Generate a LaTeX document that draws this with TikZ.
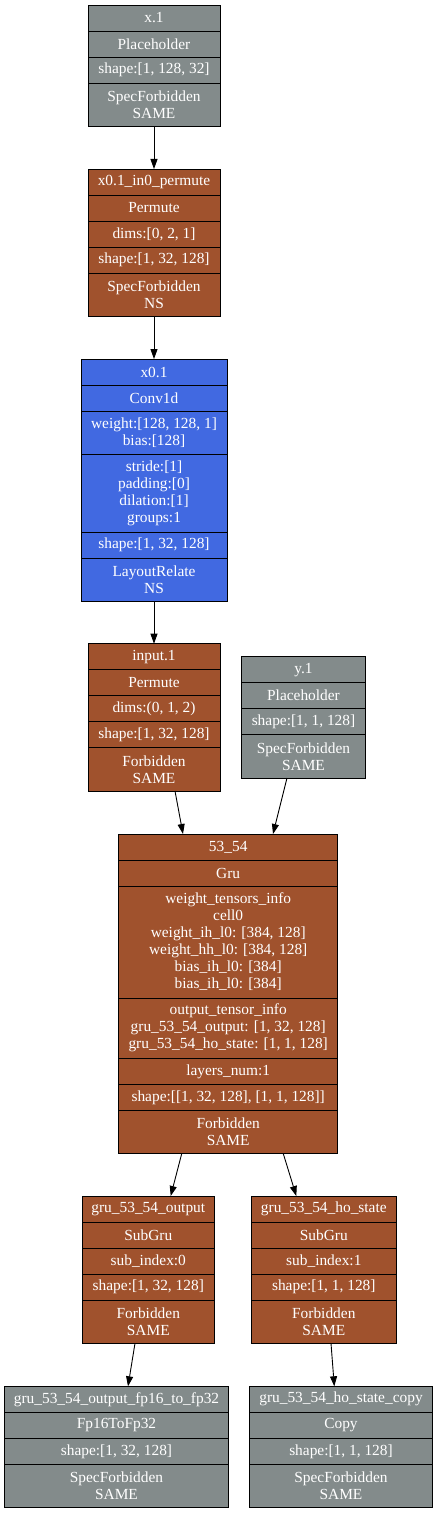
\documentclass[tikz,border=0pt]{standalone}
\usepackage{fontspec}
\setmainfont{Liberation Serif}
\usetikzlibrary{positioning}
\usetikzlibrary{arrows.meta}

\definecolor{placegray}{HTML}{838B8B}
\definecolor{opbrown}{HTML}{A0522D}
\definecolor{convblue}{HTML}{4169E1}

\tikzset{
    rec/.style={draw=black, line width=0.8pt, text=white, align=center, inner sep=0pt, outer sep=0pt,
        minimum height=26pt, font=\fontsize{15.4}{17}\selectfont},
    placebox/.style={rec, fill=placegray},
    opbox/.style={rec, fill=opbrown},
    convbox/.style={rec, fill=convblue},
    twoline/.style={minimum height=43.3pt},
    flow/.style={-{Triangle[length=10pt,width=7pt]}, line width=0.9pt}
}

\begin{document}
\begin{tikzpicture}[x=1pt,y=-1pt]
    \useasboundingbox (0,0) rectangle (437,1514);

    % x.1
    \begin{scope}[every node/.append style={placebox, minimum width=132pt}]
        \node[anchor=north] (x1-a) at (154,5) {x.1};
        \node[below=0pt of x1-a] (x1-b) {Placeholder};
        \node[below=0pt of x1-b] (x1-c) {shape:[1, 128, 32]};
        \node[below=0pt of x1-c, twoline] (x1-d) {SpecForbidden\\SAME};
    \end{scope}

    % x0.1_in0_permute
    \begin{scope}[every node/.append style={opbox, minimum width=132pt}]
        \node[anchor=north] (pm-a) at (154,169) {x0.1\_in0\_permute};
        \node[below=0pt of pm-a] (pm-b) {Permute};
        \node[below=0pt of pm-b] (pm-c) {dims:[0, 2, 1]};
        \node[below=0pt of pm-c] (pm-d) {shape:[1, 32, 128]};
        \node[below=0pt of pm-d, twoline] (pm-e) {SpecForbidden\\NS};
    \end{scope}

    % x0.1
    \begin{scope}[every node/.append style={convbox, minimum width=146pt}]
        \node[anchor=north] (cv-a) at (154,359) {x0.1};
        \node[below=0pt of cv-a] (cv-b) {Conv1d};
        \node[below=0pt of cv-b, twoline] (cv-c) {weight:[128, 128, 1]\\bias:[128]};
        \node[below=0pt of cv-c, minimum height=77.6pt] (cv-d) {stride:[1]\\padding:[0]\\dilation:[1]\\groups:1};
        \node[below=0pt of cv-d] (cv-e) {shape:[1, 32, 128]};
        \node[below=0pt of cv-e, twoline] (cv-f) {LayoutRelate\\NS};
    \end{scope}

    % input.1
    \begin{scope}[every node/.append style={opbox, minimum width=132pt}]
        \node[anchor=north] (in-a) at (154,643.7) {input.1};
        \node[below=0pt of in-a] (in-b) {Permute};
        \node[below=0pt of in-b] (in-c) {dims:(0, 1, 2)};
        \node[below=0pt of in-c] (in-d) {shape:[1, 32, 128]};
        \node[below=0pt of in-d, twoline] (in-e) {Forbidden\\SAME};
    \end{scope}

    % y.1
    \begin{scope}[every node/.append style={placebox, minimum width=124.4pt}]
        \node[anchor=north] (y1-a) at (303.5,656.7) {y.1};
        \node[below=0pt of y1-a] (y1-b) {Placeholder};
        \node[below=0pt of y1-b] (y1-c) {shape:[1, 1, 128]};
        \node[below=0pt of y1-c, twoline] (y1-d) {SpecForbidden\\SAME};
    \end{scope}

    % 53_54
    \begin{scope}[every node/.append style={opbox, minimum width=219pt}]
        \node[anchor=north] (gru-a) at (228.2,834) {53\_54};
        \node[below=0pt of gru-a] (gru-b) {Gru};
        \node[below=0pt of gru-b, minimum height=112pt] (gru-c) {weight\_tensors\_info\\cell0\\weight\_ih\_l0: [384, 128]\\weight\_hh\_l0: [384, 128]\\bias\_ih\_l0: [384]\\bias\_ih\_l0: [384]};
        \node[below=0pt of gru-c, minimum height=60.4pt] (gru-d) {output\_tensor\_info\\gru\_53\_54\_output: [1, 32, 128]\\gru\_53\_54\_ho\_state: [1, 1, 128]};
        \node[below=0pt of gru-d] (gru-e) {layers\_num:1};
        \node[below=0pt of gru-e] (gru-f) {shape:[[1, 32, 128], [1, 1, 128]]};
        \node[below=0pt of gru-f, twoline] (gru-g) {Forbidden\\SAME};
    \end{scope}

    % gru_53_54_output
    \begin{scope}[every node/.append style={opbox, minimum width=132pt}]
        \node[anchor=north] (out-a) at (148.3,1196) {gru\_53\_54\_output};
        \node[below=0pt of out-a] (out-b) {SubGru};
        \node[below=0pt of out-b] (out-c) {sub\_index:0};
        \node[below=0pt of out-c] (out-d) {shape:[1, 32, 128]};
        \node[below=0pt of out-d, twoline] (out-e) {Forbidden\\SAME};
    \end{scope}

    % gru_53_54_ho_state
    \begin{scope}[every node/.append style={opbox, minimum width=145pt}]
        \node[anchor=north] (ho-a) at (323.8,1196) {gru\_53\_54\_ho\_state};
        \node[below=0pt of ho-a] (ho-b) {SubGru};
        \node[below=0pt of ho-b] (ho-c) {sub\_index:1};
        \node[below=0pt of ho-c] (ho-d) {shape:[1, 1, 128]};
        \node[below=0pt of ho-d, twoline] (ho-e) {Forbidden\\SAME};
    \end{scope}

    % gru_53_54_output_fp16_to_fp32
    \begin{scope}[every node/.append style={placebox, minimum width=224.4pt}]
        \node[anchor=north] (fp-a) at (116.5,1386.3) {gru\_53\_54\_output\_fp16\_to\_fp32};
        \node[below=0pt of fp-a] (fp-b) {Fp16ToFp32};
        \node[below=0pt of fp-b] (fp-c) {shape:[1, 32, 128]};
        \node[below=0pt of fp-c, twoline] (fp-d) {SpecForbidden\\SAME};
    \end{scope}

    % gru_53_54_ho_state_copy
    \begin{scope}[every node/.append style={placebox, minimum width=182.6pt}]
        \node[anchor=north] (cp-a) at (341,1386.3) {gru\_53\_54\_ho\_state\_copy};
        \node[below=0pt of cp-a] (cp-b) {Copy};
        \node[below=0pt of cp-b] (cp-c) {shape:[1, 1, 128]};
        \node[below=0pt of cp-c, twoline] (cp-d) {SpecForbidden\\SAME};
    \end{scope}

    % edges
    \draw[flow] (x1-d.south) -- (pm-a.north);
    \draw[flow] (pm-e.south) -- (cv-a.north);
    \draw[flow] (cv-f.south) -- (in-a.north);
    \draw[flow] ([xshift=21pt]in-e.south) -- ([xshift=-45.2pt]gru-a.north);
    \draw[flow] ([xshift=-16.5pt]y1-d.south) -- ([xshift=44.8pt]gru-a.north);
    \draw[flow] ([xshift=-46.5pt]gru-g.south) -- ([xshift=22.4pt]out-a.north);
    \draw[flow] ([xshift=55.1pt]gru-g.south) -- ([xshift=-27.5pt]ho-a.north);
    \draw[flow] ([xshift=-13.3pt]out-e.south) -- ([xshift=11.5pt]fp-a.north);
    \draw[flow] ([xshift=7.2pt]ho-e.south) -- ([xshift=-6.7pt]cp-a.north);
\end{tikzpicture}
\end{document}
